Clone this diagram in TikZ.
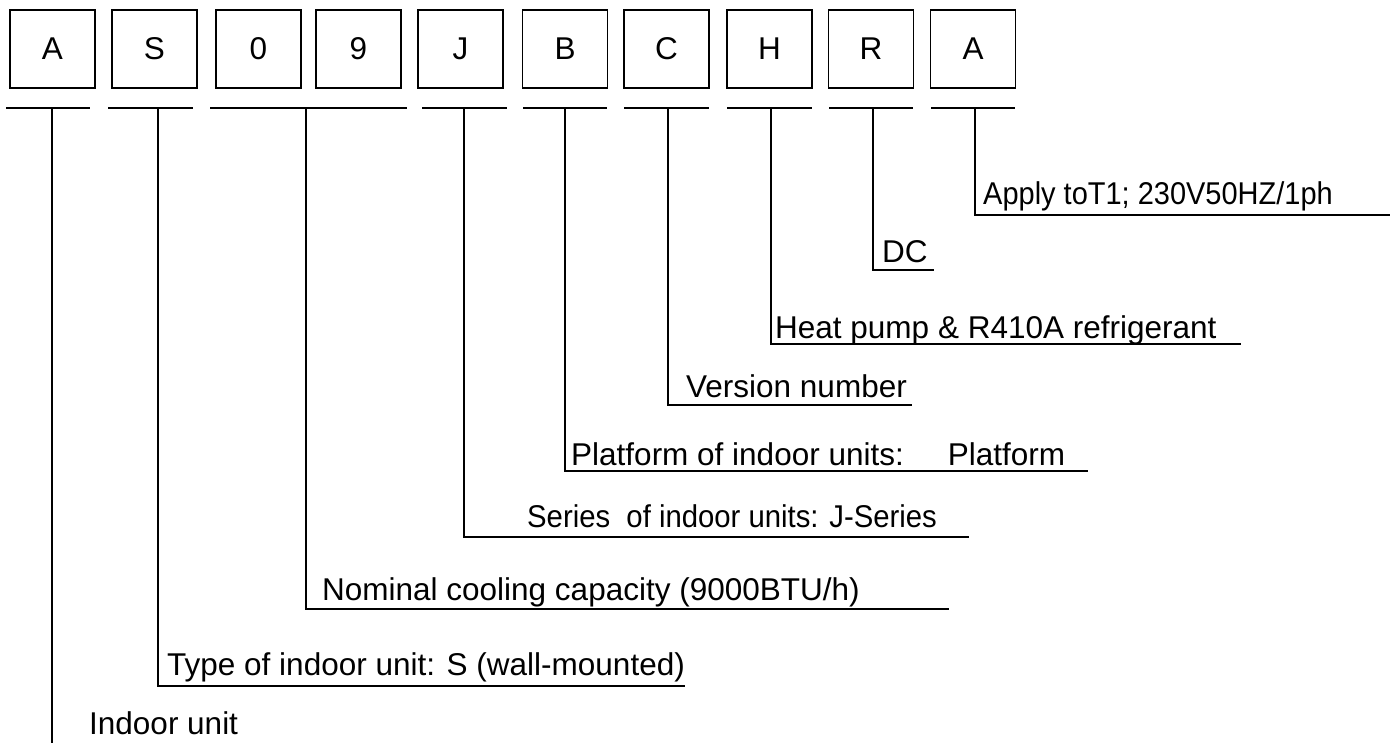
\documentclass[tikz,border=0pt]{standalone}
\usepackage{fontspec}
\setmainfont{Liberation Sans}
\tikzset{
  every picture/.style={line join=miter, line cap=butt},
  codebox/.style={draw, line width=1.5pt, minimum width=85pt, minimum height=78pt, inner sep=0pt},
  lbl/.style={anchor=base west, inner sep=0pt},
  rule/.style={line width=1.6pt},
}

\begin{document}
\begin{tikzpicture}[x=1pt,y=-1pt,font=\fontsize{31.5}{36}\selectfont]
\useasboundingbox(0,0)rectangle(1398,743);
% code letters
\node[codebox](bA)at(52.5,49){A};
\node[codebox](bS)at(154.5,49){S};
\node[codebox](bZero)at(258.5,49){0};
\node[codebox](bNine)at(358.5,49){9};
\node[codebox](bJ)at(460.5,49){J};
\node[codebox](bB)at(565,49){B};
\node[codebox](bC)at(666.5,49){C};
\node[codebox](bH)at(769.5,49){H};
\node[codebox](bR)at(871,49){R};
\node[codebox](bT)at(973,49){A};
% underlines
\draw[rule](6,108)--(90,108);
\draw[rule](108,108)--(193,108);
\draw[rule](210,108)--(407,108);
\draw[rule](422,108)--(507,108);
\draw[rule](523,108)--(607,108);
\draw[rule](624,108)--(709,108);
\draw[rule](727,108)--(812,108);
\draw[rule](829,108)--(913,108);
\draw[rule](931,108)--(1015,108);
% stem tops
\coordinate(sA)at(52,108);
\coordinate(sS)at(158,108);
\coordinate(sCap)at(306,108);
\coordinate(sJ)at(464,108);
\coordinate(sB)at(565,108);
\coordinate(sC)at(668,108);
\coordinate(sH)at(771,108);
\coordinate(sR)at(873,108);
\coordinate(sT)at(975,108);
% meanings
\node[lbl](tT)at(983,205){\scalebox{0.92}[1]{Apply toT1; 230V50HZ/1ph}};
\coordinate(eT)at(1390,215);
\draw[rule](sT)|-(eT);
\node[lbl](tR)at(882,263){DC};
\coordinate(eR)at(934,270);
\draw[rule](sR)|-(eR);
\node[lbl](tH)at(775,339){Heat pump \& R410A refrigerant};
\coordinate(eH)at(1241,344);
\draw[rule](sH)|-(eH);
\node[lbl](tC)at(686,397){Version number};
\coordinate(eC)at(912,405);
\draw[rule](sC)|-(eC);
\node[lbl](tB)at(571,465){Platform of indoor units:\hspace{1.4em}Platform};
\coordinate(eB)at(1088,471);
\draw[rule](sB)|-(eB);
\node[lbl](tJ)at(527,527){\scalebox{0.93}[1]{Series\ \ of indoor units: J-Series}};
\coordinate(eJ)at(969,537);
\draw[rule](sJ)|-(eJ);
\node[lbl](tCap)at(322,600){Nominal cooling capacity (9000BTU/h)};
\coordinate(eCap)at(949,609);
\draw[rule](sCap)|-(eCap);
\node[lbl](tS)at(167,675){Type of indoor unit: S (wall-mounted)};
\coordinate(eS)at(685,686);
\draw[rule](sS)|-(eS);
\node[lbl](tA)at(89,734){Indoor unit};
\coordinate(eA)at(52,743);
\draw[rule](sA)--(eA);
\end{tikzpicture}
\end{document}
